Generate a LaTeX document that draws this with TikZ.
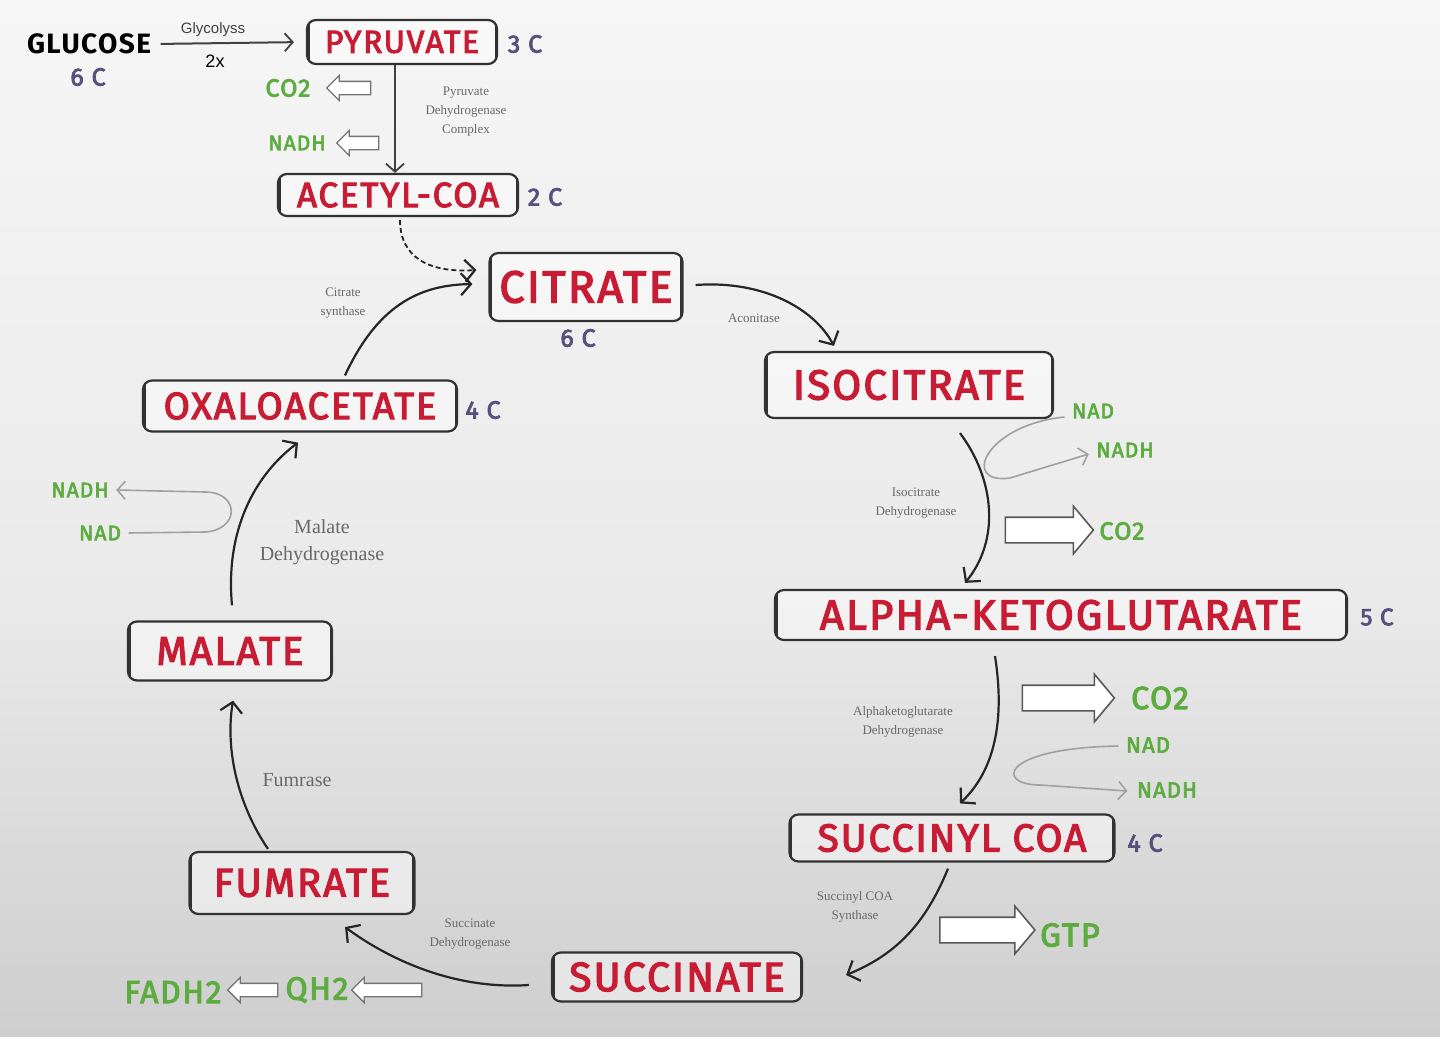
\documentclass[tikz,border=0pt]{standalone}
\usepackage{fontspec}
\setmainfont{Liberation Serif}
\newfontfamily\labf{Fira Sans}[LetterSpace=5]
\newfontfamily\labm{Fira Sans}[FakeBold=3, LetterSpace=5]
\newfontfamily\arialf{Liberation Sans}
\usetikzlibrary{arrows.meta,shapes.arrows,calc}
\definecolor{redt}{RGB}{200,28,52}
\definecolor{grn}{RGB}{92,172,64}
\definecolor{carb}{RGB}{85,80,125}
\definecolor{enz}{RGB}{105,105,105}
\definecolor{boxc}{RGB}{50,50,50}
\definecolor{cof}{RGB}{160,160,160}
\definecolor{bgtop}{RGB}{246,246,246}
\definecolor{bgmid}{RGB}{234,234,234}
\definecolor{bgbot}{RGB}{206,206,206}
\tikzset{
  met/.style={draw=boxc, line width=2.2pt, rounded corners=9pt, fill=white, fill opacity=0.45, text opacity=1,
    text=redt, font=\labm\fontsize{#1}{#1}\selectfont, inner sep=0pt,
    path picture={\draw[line width=5pt, draw=boxc] (path picture bounding box.north west) -- (path picture bounding box.south west)
      (path picture bounding box.north east) -- (path picture bounding box.south east);}},
  carbon/.style={text=carb, font=\labm\fontsize{#1}{#1}\selectfont},
  cofl/.style={text=grn, font=\labm\fontsize{#1}{#1}\selectfont},
  enzs/.style={text=enz, align=center, font=\fontsize{13}{19}\selectfont},
  enzb/.style={text=enz, align=center, font=\fontsize{20}{27}\selectfont},
  flow/.style={draw=black!85, line width=2.2pt, -{Straight Barb[length=10pt,width=22pt,line width=2.2pt]}},
  thinarrow/.style={draw=black!75, line width=2pt, -{Straight Barb[length=8pt,width=18pt,line width=1.8pt]}},
  cofarrow/.style={draw=cof, line width=1.6pt, -{Straight Barb[length=8pt,width=18pt,line width=1.6pt]}},
  hollowbig/.style={single arrow, draw=black!65, fill=white, line width=1.6pt, inner xsep=0pt, inner ysep=12pt,
    single arrow head extend=11pt, single arrow head indent=0pt, single arrow tip angle=100, minimum height=#1},
  hollowsmall/.style={single arrow, draw=black!55, fill=white, line width=1.3pt, inner xsep=0pt, inner ysep=6pt,
    single arrow head extend=6pt, single arrow head indent=0pt, minimum height=#1, shape border rotate=180},
}
\begin{document}
\begin{tikzpicture}[x=1pt,y=-1pt]
\useasboundingbox (0,0) rectangle (1440,1036);
\shade[top color=bgtop, bottom color=bgmid] (0,0) rectangle (1440,600);
\shade[top color=bgmid, bottom color=bgbot] (0,600) rectangle (1440,1036);

% metabolites
\node[text=black, font=\labf\bfseries\fontsize{28}{28}\selectfont] (glu) at (89,44) {GLUCOSE};
\node[met=32, minimum width=190pt, minimum height=44pt] (pyr) at (402,42) {PYRUVATE};
\node[met=35, minimum width=240pt, minimum height=42pt] (acet) at (398,195) {ACETYL-COA};
\node[met=45, minimum width=193pt, minimum height=68pt] (cit) at (586,287) {CITRATE};
\node[met=42, minimum width=288pt, minimum height=66pt] (iso) at (909,385) {ISOCITRATE};
\node[met=42, minimum width=572pt, minimum height=50pt] (akg) at (1061,615) {ALPHA-KETOGLUTARATE};
\node[met=39, minimum width=325pt, minimum height=47pt] (scoa) at (952,838) {SUCCINYL COA};
\node[met=41, minimum width=250pt, minimum height=49pt] (succ) at (677,977) {SUCCINATE};
\node[met=40, minimum width=225pt, minimum height=62pt] (fum) at (302,883) {FUMRATE};
\node[met=40, minimum width=204pt, minimum height=59pt] (mal) at (230,651) {MALATE};
\node[met=38, minimum width=314pt, minimum height=51pt] (ox) at (300,406) {OXALOACETATE};

% carbon counts
\node[carbon=25] (c1) at (88,77) {6 C};
\node[carbon=25] (c2) at (525,44) {3 C};
\node[carbon=25] (c3) at (545,197) {2 C};
\node[carbon=25] (c4) at (578,338) {6 C};
\node[carbon=24] (c5) at (1377,617) {5 C};
\node[carbon=25] (c6) at (1145,843) {4 C};
\node[carbon=25] (c7) at (483,410) {4 C};

% glycolysis
\node[text=black!75, font=\arialf\fontsize{15}{15}\selectfont] (gly) at (213,30) {Glycolyss};
\node[text=black, font=\arialf\fontsize{18}{18}\selectfont] (twox) at (215,61) {2x};
\draw[thinarrow, shorten <=6pt, shorten >=12pt] (glu.east) -- (pyr.west);

% pyruvate -> acetyl-coA
\draw[thinarrow] ($(pyr.south)+(-7,0)$) -- ($(acet.north)+(-3,0)$);
\node[enzs] (pdh) at (466,112) {Pyruvate\\Dehydrogenase\\Complex};
\node[cofl=25] (co2a) at (288,88) {CO2};
\node[cofl=21] (nadha) at (297,143) {NADH};
\node[hollowsmall=44pt] (ha1) at (352,88) {};
\node[hollowsmall=42pt] (ha2) at (361,143) {};

% acetyl -> citrate dashed
\draw[flow, line width=1.8pt, dash pattern=on 5pt off 3pt] ($(acet.south)+(2,3)$) .. controls (400,258) and (430,273) .. ($(cit.west)+(-12,-17)$);

% oxaloacetate -> citrate
\draw[flow] ($(ox.north)+(45,-4)$) .. controls (380,300) and (425,285) .. ($(cit.west)+(-16,-3)$);
\node[enzs] (cs) at (343,303) {Citrate\\synthase};

% citrate -> isocitrate
\draw[flow] ($(cit.east)+(12,-2)$) .. controls (765,280) and (815,310) .. ($(iso.north west)+(70,-5)$);
\node[enzs] (aco) at (754,318) {Aconitase};

% isocitrate -> alpha-KG
\draw[flow] ($(iso.south)+(51,14)$) .. controls (995,480) and (1000,540) .. ($(akg.north)+(-96,-6)$);
\node[enzs] (idh) at (916,503) {Isocitrate\\Dehydrogenase};
\node[cofl=21] (nad1) at (1093,411) {NAD};
\node[cofl=21] (nadh1) at (1125,450) {NADH};
\draw[cofarrow] ($(nad1.west)+(-4,6)$) .. controls (985,425) and (960,485) .. (1010,478) -- ($(nadh1.west)+(-4,4)$);
\node[hollowbig=88pt] (hb1) at (1044,530) {};
\node[cofl=25] (co2b) at (1122,531) {CO2};

% alpha-KG -> succinyl coA
\draw[flow] ($(akg.south)+(-66,15)$) .. controls (1005,720) and (995,770) .. ($(scoa.north)+(8,-10)$);
\node[enzs] (akgdh) at (903,722) {Alphaketoglutarate\\Dehydrogenase};
\node[hollowbig=92pt] (hb2) at (1063,698) {};
\node[cofl=32] (co2c) at (1160,698) {CO2};
\node[cofl=22] (nad2) at (1148,745) {NAD};
\node[cofl=22] (nadh2) at (1167,790) {NADH};
\draw[cofarrow] ($(nad2.west)+(-4,1)$) .. controls (1000,748) and (995,785) .. (1040,785) -- ($(nadh2.west)+(-6,1)$);

% succinyl coA -> succinate
\draw[flow] ($(scoa.south)+(-4,6)$) .. controls (925,925) and (895,955) .. ($(succ.east)+(43,-2)$);
\node[enzs] (scs) at (855,907) {Succinyl COA\\Synthase};
\node[hollowbig=95pt] (hb3) at (982,930) {};
\node[cofl=33] (gtp) at (1070,935) {GTP};

% succinate -> fumarate
\draw[flow] ($(succ.west)+(-22,8)$) .. controls (455,990) and (390,960) .. ($(fum.south)+(43,12)$);
\node[enzs] (sdh) at (470,934) {Succinate\\Dehydrogenase};
\node[hollowsmall=70pt] (hs1) at (390,990) {};
\node[cofl=32] (qh2) at (317,990) {QH2};
\node[hollowsmall=50pt] (hs2) at (256,990) {};
\node[cofl=32] (fadh) at (173,992) {FADH2};

% fumarate -> malate
\draw[flow] ($(fum.north)+(-34,-2)$) .. controls (238,805) and (225,750) .. ($(mal.south)+(3,19)$);
\node[enzb] (fumase) at (297,780) {Fumrase};

% malate -> oxaloacetate
\draw[flow] ($(mal.north)+(2,-15)$) .. controls (225,530) and (255,475) .. ($(ox.south)+(-2,10)$);
\node[enzb] (mdh) at (322,542) {Malate\\Dehydrogenase};
\node[cofl=21] (nadh3) at (80,490) {NADH};
\node[cofl=21] (nad3) at (100,533) {NAD};
\draw[cofarrow] ($(nad3.east)+(4,0)$) -- (205,532) .. controls (240,530) and (240,492) .. (205,492) -- ($(nadh3.east)+(4,0)$);
\end{tikzpicture}
\end{document}
